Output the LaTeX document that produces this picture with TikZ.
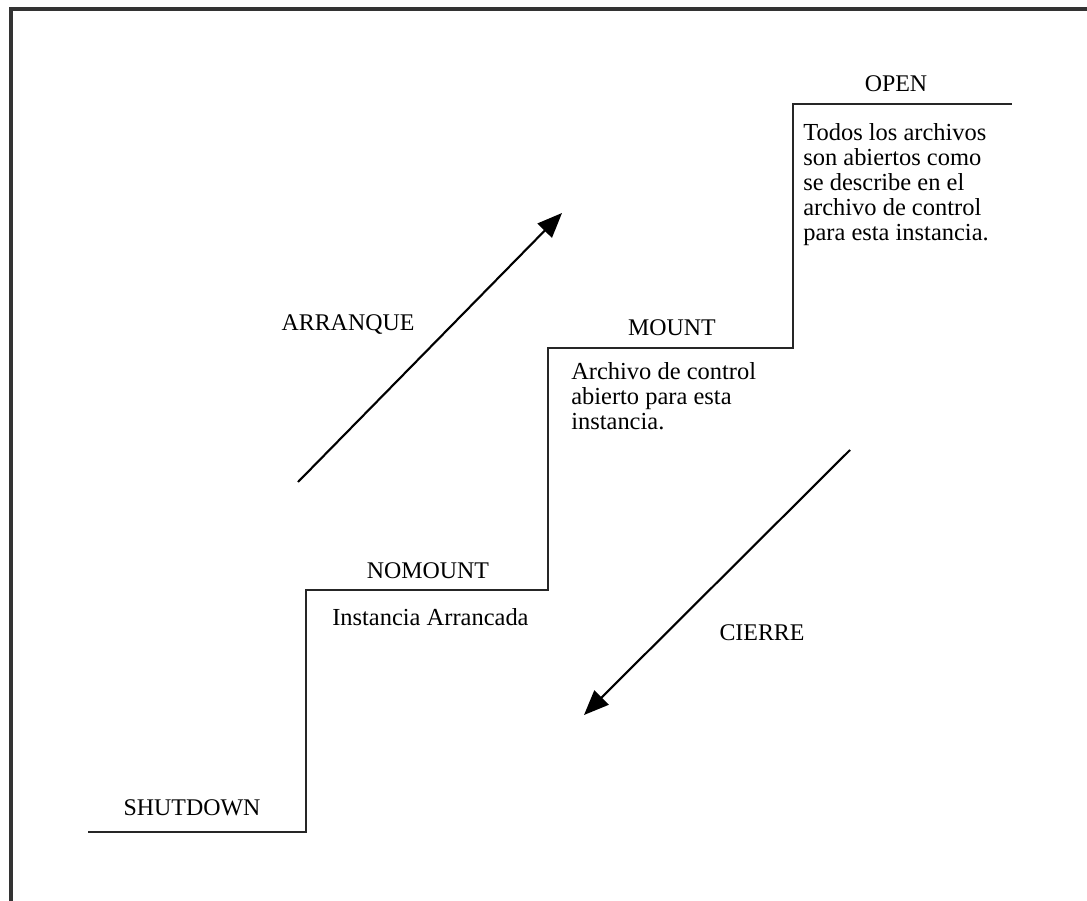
\documentclass[tikz,border=0pt]{standalone}
\usepackage{fontspec}
\setmainfont{Liberation Serif}
\usetikzlibrary{arrows.meta}

\tikzset{
  stage/.style={font=\fontsize{17}{18.7}\selectfont, inner sep=0pt},
  note/.style={font=\fontsize{17.4}{17.9}\selectfont, align=left, anchor=north west, inner sep=0pt},
  flow/.style={line width=1.5pt, -{Triangle[length=0.62cm, width=0.5cm]}}
}

\begin{document}
\begin{tikzpicture}[x=0.025cm, y=-0.025cm]
% Set the page size (pixels of the reference)
\useasboundingbox (0, 0) rectangle (1087, 901);

% Frame
\draw[line width=2.2pt, black!80] (11, 901) -- (11, 9) -- (1087, 9);

% Staircase corners
\coordinate (s0) at (88, 832);
\coordinate (s1) at (306, 832);
\coordinate (s2) at (306, 590);
\coordinate (s3) at (548, 590);
\coordinate (s4) at (548, 348);
\coordinate (s5) at (793, 348);
\coordinate (s6) at (793, 104);
\coordinate (s7) at (1012, 104);
\draw[line width=2.1pt, black!85] (s0) -- (s1) -- (s2) -- (s3) -- (s4) -- (s5) -- (s6) -- (s7);

% Stage names
\node[stage] (shutdown) at (192, 808) {SHUTDOWN};
\node[stage] (nomount) at (428, 571) {NOMOUNT};
\node[stage] (mount) at (672, 328) {MOUNT};
\node[stage] (open) at (896, 84) {OPEN};

% Stage descriptions
\node[note] (nomountnote) at (332, 608) {Instancia Arrancada};
\node[note] (mountnote) at (571, 362) {Archivo de control\\abierto para esta\\instancia.};
\node[note] (opennote) at (803, 123) {Todos los archivos\\son abiertos como\\se describe en el\\archivo de control\\para esta instancia.};

% Start up and shut down
\coordinate (upfrom) at (298, 482);
\coordinate (upto) at (562, 213);
\draw[flow] (upfrom) -- (upto);
\node[stage] (arranque) at (348, 325) {ARRANQUE};

\coordinate (downfrom) at (850, 450);
\coordinate (downto) at (584, 715);
\draw[flow] (downfrom) -- (downto);
\node[stage] (cierre) at (762, 633) {CIERRE};
\end{tikzpicture}
\end{document}
